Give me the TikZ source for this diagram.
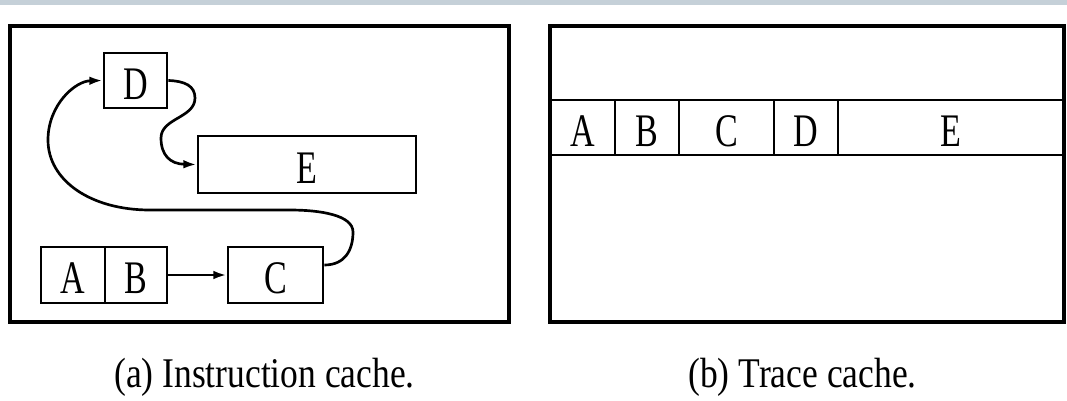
\documentclass[tikz,border=0pt]{standalone}
\usepackage{fontspec}
\setmainfont{Liberation Serif}
\newfontfamily\boxfont[FakeStretch=0.73]{Liberation Serif}
\newfontfamily\capfont[FakeStretch=0.84]{Liberation Serif}
\usetikzlibrary{arrows.meta,fit}
\definecolor{band}{RGB}{197,208,216}

\begin{document}
\begin{tikzpicture}[x=0.75pt,y=-0.75pt,
  panel/.style={draw=black, line width=2.6pt, inner sep=0pt},
  blk/.style={draw=black, line width=2pt, inner sep=0pt,
              text height=27.75pt, text depth=0pt,
              font=\boxfont\fontsize{35}{35}\selectfont},
  flow/.style={line width=2pt, -{Latex[length=10pt,width=6.5pt]}},
  caption/.style={font=\capfont\fontsize{31.7}{32}\selectfont, anchor=base}]

\useasboundingbox (0,0) rectangle (1067,400);
\fill[band] (0,0) rectangle (1067,5);

% (a) instruction cache
\node[panel, fit={(10,26) (509,322)}] (icache) {};
\node[blk, minimum width=47.25pt, minimum height=41.25pt] (D) at (135.5,80.5) {D};
\node[blk, minimum width=163.5pt, minimum height=42.75pt] (E) at (307,164.5) {E};
\node[blk, minimum width=48pt, minimum height=42pt] (A) at (73,275) {A};
\node[blk, minimum width=46.5pt, minimum height=42pt] (B) at (136,275) {B};
\node[blk, minimum width=71.25pt, minimum height=42pt] (C) at (275.5,275) {C};

\draw[flow] (B) -- (C);
\draw[flow] ([yshift=7.5pt]C.east)
  .. controls (345,265) and (353,250) .. (353,232)
  .. controls (353,215) and (320,210) .. (290,210)
  -- (150,210)
  .. controls (90,210) and (48,180) .. (48,140)
  .. controls (48,105) and (75,81) .. (D.west);
\draw[flow] (D.east)
  .. controls (185,81) and (195,86) .. (195,98)
  .. controls (195,118) and (161,118) .. (161,138)
  .. controls (161,155) and (170,164) .. (E.west);

% (b) trace cache
\node[panel, fit={(550,26) (1064,322)}] (tcache) {};
\node[blk, minimum width=48.75pt, minimum height=41.25pt] (tA) at (582.5,127.5) {A};
\node[blk, minimum width=48pt, minimum height=41.25pt] (tB) at (647,127.5) {B};
\node[blk, minimum width=71.25pt, minimum height=41.25pt] (tC) at (726.5,127.5) {C};
\node[blk, minimum width=48pt, minimum height=41.25pt] (tD) at (806,127.5) {D};
\node[blk, minimum width=169.5pt, minimum height=41.25pt] (tE) at (951,127.5) {E};

% captions
\node[caption] (capa) at (264.5,387) {(a) Instruction cache.};
\node[caption] (capb) at (802.5,387) {(b) Trace cache.};
\end{tikzpicture}
\end{document}
